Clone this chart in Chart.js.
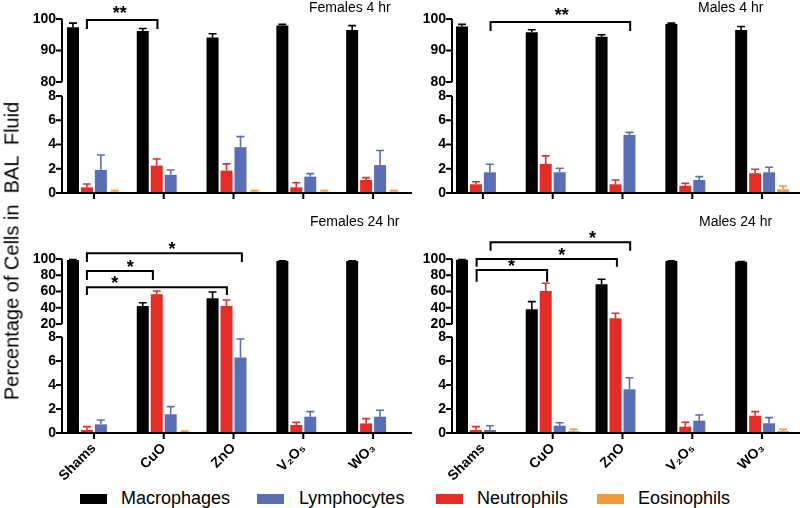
<!DOCTYPE html>
<html>
<head>
<meta charset="utf-8">
<script src="https://cdn.jsdelivr.net/npm/chart.js@4.4.1/dist/chart.umd.min.js"></script>
<style>
  body { margin: 0; background: #fff; width: 800px; height: 508px; position: relative; overflow: hidden;
         font-family: "Liberation Sans", Arial, sans-serif; color: #000; }
  canvas { position: absolute; }
  .ttl { position: absolute; font-size: 14px; line-height: 14px; white-space: nowrap; }
  .ylab { position: absolute; left: 12px; top: 251px; font-size: 20px; white-space: pre;
          transform: translate(-50%, -50%) rotate(-90deg); }
  .sw { position: absolute; top: 494px; width: 27px; height: 10px; }
  .lt { position: absolute; top: 488px; font-size: 18px; line-height: 20px; white-space: nowrap; }
</style>
</head>
<body>
<canvas id="f4" width="415" height="205" style="left:0;top:0"></canvas>
<canvas id="m4" width="405" height="205" style="left:395px;top:0"></canvas>
<canvas id="f24" width="415" height="260" style="left:0;top:225px"></canvas>
<canvas id="m24" width="405" height="260" style="left:395px;top:225px"></canvas>

<div class="ttl" style="left:309px;top:0">Females 4 hr</div>
<div class="ttl" style="left:698px;top:0">Males 4 hr</div>
<div class="ttl" style="left:310px;top:214px">Females 24 hr</div>
<div class="ttl" style="left:699px;top:214px">Males 24 hr</div>
<div class="ylab">Percentage of Cells in  BAL  Fluid</div>

<div class="sw" style="left:80px;background:#000"></div><div class="lt" style="left:121px">Macrophages</div>
<div class="sw" style="left:257px;background:#5a6eb6"></div><div class="lt" style="left:299px">Lymphocytes</div>
<div class="sw" style="left:436px;background:#e32d26"></div><div class="lt" style="left:477px">Neutrophils</div>
<div class="sw" style="left:597px;background:#f59a3c"></div><div class="lt" style="left:638px">Eosinophils</div>

<script>
// groups on the x axis
const groups = ['Shams', 'CuO', 'ZnO', 'V₂O₅', 'WO₃'];

// y tick labels of the broken axes
const ticks4hr = [0, 2, 4, 6, 8, 80, 90, 100];
const ticks24hr = [0, 2, 4, 6, 8, 20, 40, 60, 80, 100];

// Females 4 hr (mean, SEM)
const f4Mac = [97.4, 96.2, 94.1, 97.9, 96.5];
const f4MacErr = [1.3, 0.8, 1.2, 0.4, 1.4];
const f4Neu = [0.47, 2.26, 1.85, 0.47, 1.07];
const f4NeuErr = [0.27, 0.54, 0.55, 0.38, 0.2];
const f4Lym = [1.9, 1.5, 3.78, 1.35, 2.3];
const f4LymErr = [1.24, 0.4, 0.87, 0.25, 1.2];
const f4Eos = [0.1, 0, 0.1, 0.1, 0.1];
const f4EosErr = [0.1, 0, 0.1, 0.1, 0.1];

// Males 4 hr
const m4Mac = [97.6, 95.8, 94.4, 98.4, 96.5];
const m4MacErr = [0.7, 0.8, 0.6, 0.3, 1.1];
const m4Neu = [0.72, 2.4, 0.72, 0.6, 1.63];
const m4NeuErr = [0.21, 0.66, 0.35, 0.2, 0.33];
const m4Lym = [1.71, 1.71, 4.79, 1.07, 1.71];
const m4LymErr = [0.66, 0.33, 0.21, 0.28, 0.41];
const m4Eos = [0, 0, 0, 0, 0.3];
const m4EosErr = [0, 0, 0, 0, 0.28];

// Females 24 hr
const f24Mac = [98.8, 42.2, 51.6, 97.5, 97.5];
const f24MacErr = [0.4, 4.0, 7.8, 0.3, 0.3];
const f24Neu = [0.25, 56.5, 42.2, 0.67, 0.8];
const f24NeuErr = [0.28, 4.1, 7.3, 0.22, 0.4];
const f24Lym = [0.72, 1.56, 6.3, 1.36, 1.36];
const f24LymErr = [0.36, 0.64, 1.53, 0.42, 0.54];
const f24Eos = [0, 0.1, 0, 0, 0];
const f24EosErr = [0, 0.06, 0, 0, 0];

// Males 24 hr
const m24Mac = [99.0, 38.1, 68.9, 97.5, 96.7];
const m24MacErr = [0.3, 9.4, 6.1, 0.3, 0.3];
const m24Neu = [0.25, 60.6, 27.0, 0.53, 1.44];
const m24NeuErr = [0.28, 9.5, 6.2, 0.36, 0.34];
const m24Lym = [0.25, 0.61, 3.64, 1.03, 0.81];
const m24LymErr = [0.35, 0.25, 0.96, 0.47, 0.47];
const m24Eos = [0, 0.17, 0, 0, 0.17];
const m24EosErr = [0, 0.13, 0, 0, 0.13];

const colMac = '#000000';
const colNeu = '#e32d26';
const colLym = '#5a6eb6';
const colEos = '#f59a3c';

Chart.defaults.font.family = '"Liberation Sans", Arial, sans-serif';
Chart.defaults.color = '#000';

// per-canvas settings (axis break, layout, significance brackets)
const extras = {};

// linear scale with a break between two segments
class BrokenScale extends Chart.LinearScale {
  seg() {
    const b = extras[this.chart.canvas.id].brk;
    const h = this.bottom - this.top;
    const lowH = h * b.lowFrac, gapH = h * b.gapFrac;
    return { b, lowH, gapH, upH: h - lowH - gapH };
  }
  getPixelForValue(v) {
    const { b, lowH, gapH, upH } = this.seg();
    if (v <= b.low) return this.bottom - v / b.low * lowH;
    if (v >= b.high) return this.bottom - lowH - gapH - (v - b.high) / (b.max - b.high) * upH;
    return this.bottom - lowH - (v - b.low) / (b.high - b.low) * gapH;
  }
  getValueForPixel(p) {
    const { b, lowH, gapH, upH } = this.seg();
    const d = this.bottom - p;
    if (d <= lowH) return d / lowH * b.low;
    if (d <= lowH + gapH) return b.low + (d - lowH) / gapH * (b.high - b.low);
    return b.high + (d - lowH - gapH) / upH * (b.max - b.high);
  }
}
BrokenScale.id = 'broken';
BrokenScale.defaults = Chart.LinearScale.defaults;
Chart.register(BrokenScale);

// axis lines with the break, and tick marks
const axesPlugin = {
  id: 'brokenAxes',
  afterDraw(chart) {
    const ex = extras[chart.canvas.id];
    const { ctx, chartArea } = chart;
    const y = chart.scales.y, x = chart.scales.x;
    const ax = chartArea.left + ex.axOff;
    const base = y.getPixelForValue(0);
    ctx.save();
    ctx.strokeStyle = '#000';
    ctx.lineWidth = 2;
    ctx.beginPath();
    ctx.moveTo(ax, base + 1);
    ctx.lineTo(ax, y.getPixelForValue(ex.brk.low));
    ctx.moveTo(ax, y.getPixelForValue(ex.brk.high));
    ctx.lineTo(ax, y.getPixelForValue(ex.brk.max));
    ex.yTicks.forEach(v => {
      const p = y.getPixelForValue(v);
      ctx.moveTo(ax - 6, p);
      ctx.lineTo(ax, p);
    });
    ctx.moveTo(ax, base);
    ctx.lineTo(chartArea.right + ex.xExt, base);
    x.ticks.forEach((t, k) => {
      const p = x.getPixelForTick(k);
      ctx.moveTo(p, base);
      ctx.lineTo(p, base + 6);
    });
    ctx.stroke();
    ctx.restore();
  }
};

// one-sided error bars in the colour of the bar
const errPlugin = {
  id: 'errBars',
  afterDatasetsDraw(chart) {
    const ctx = chart.ctx, y = chart.scales.y;
    chart.data.datasets.forEach((ds, i) => {
      chart.getDatasetMeta(i).data.forEach((bar, j) => {
        const e = ds.err[j];
        if (!e) return;
        const top = y.getPixelForValue(ds.data[j] + e);
        const half = bar.width * 0.33;
        ctx.save();
        ctx.strokeStyle = ds.backgroundColor;
        ctx.lineWidth = 1.6;
        ctx.beginPath();
        ctx.moveTo(bar.x, bar.y);
        ctx.lineTo(bar.x, top);
        ctx.moveTo(bar.x - half, top);
        ctx.lineTo(bar.x + half, top);
        ctx.stroke();
        ctx.restore();
      });
    });
  }
};

// significance brackets
const bracketPlugin = {
  id: 'brackets',
  afterDraw(chart) {
    const ex = extras[chart.canvas.id];
    const { ctx } = chart;
    const x = chart.scales.x, y = chart.scales.y;
    ctx.save();
    ctx.strokeStyle = '#000';
    ctx.fillStyle = '#000';
    ctx.lineWidth = 2;
    ctx.font = 'bold 18px "Liberation Sans", Arial, sans-serif';
    ctx.textAlign = 'center';
    ctx.textBaseline = 'alphabetic';
    ex.brackets.forEach(b => {
      const x1 = x.getPixelForValue(b.from), x2 = x.getPixelForValue(b.to);
      const yt = y.getPixelForValue(b.y), yd = y.getPixelForValue(b.drop);
      ctx.beginPath();
      ctx.moveTo(x1, yd);
      ctx.lineTo(x1, yt);
      ctx.lineTo(x2, yt);
      ctx.lineTo(x2, yd);
      ctx.stroke();
      ctx.fillText(b.text, x.getPixelForValue(b.tx), yt + b.ty);
    });
    ctx.restore();
  }
};

function makePanel(id, ex, mac, macErr, neu, neuErr, lym, lymErr, eos, eosErr) {
  extras[id] = ex;
  const sets = [
    { label: 'Macrophages', data: mac, err: macErr, backgroundColor: colMac },
    { label: 'Neutrophils', data: neu, err: neuErr, backgroundColor: colNeu },
    { label: 'Lymphocytes', data: lym, err: lymErr, backgroundColor: colLym },
    { label: 'Eosinophils', data: eos, err: eosErr, backgroundColor: colEos }
  ];
  return new Chart(document.getElementById(id), {
    type: 'bar',
    data: {
      labels: groups,
      datasets: sets.map(s => Object.assign(s, { categoryPercentage: 0.8, barPercentage: 0.86, borderWidth: 0 }))
    },
    options: {
      responsive: false,
      animation: false,
      layout: { padding: { top: ex.padTop, right: ex.padRight, left: 0, bottom: 0 } },
      plugins: { legend: { display: false }, tooltip: { enabled: false } },
      scales: {
        x: {
          grid: { display: false, drawTicks: false },
          border: { display: false },
          ticks: {
            display: ex.showLabels, minRotation: 45, maxRotation: 45, autoSkip: false,
            padding: 7, font: { size: 14, weight: 'bold' }
          },
          afterFit: s => { s.height = ex.xH; }
        },
        y: {
          type: 'broken',
          min: 0,
          max: 100,
          grid: { display: false, drawTicks: false },
          border: { display: false },
          ticks: { padding: ex.tickPad, autoSkip: false, font: { size: 14, weight: 'bold' }, callback: v => v },
          afterBuildTicks: s => { s.ticks = ex.yTicks.map(v => ({ value: v })); },
          afterFit: s => { s.width = ex.yW; }
        }
      }
    },
    plugins: [errPlugin, axesPlugin, bracketPlugin]
  });
}

const brk4 = { low: 8, high: 80, max: 100, lowFrac: 97 / 174, gapFrac: 14 / 174 };
const brk24 = { low: 8, high: 20, max: 100, lowFrac: 96 / 174, gapFrac: 13 / 174 };

makePanel('f4', {
  brk: brk4, yTicks: ticks4hr, padTop: 19, padRight: 7, yW: 59, xH: 12, axOff: 3, tickPad: 3, xExt: 4,
  showLabels: false,
  brackets: [{ from: -0.1, to: 0.91, y: 99.7, drop: 96.8, text: '**', tx: 0.37, ty: -1 }]
}, f4Mac, f4MacErr, f4Neu, f4NeuErr, f4Lym, f4LymErr, f4Eos, f4EosErr);

makePanel('m4', {
  brk: brk4, yTicks: ticks4hr, padTop: 19, padRight: 3, yW: 53, xH: 12, axOff: 4, tickPad: 2, xExt: 3,
  showLabels: false,
  brackets: [{ from: 0.11, to: 2.11, y: 99.05, drop: 96.2, text: '**', tx: 1.13, ty: -1 }]
}, m4Mac, m4MacErr, m4Neu, m4NeuErr, m4Lym, m4LymErr, m4Eos, m4EosErr);

makePanel('f24', {
  brk: brk24, yTicks: ticks24hr, padTop: 34, padRight: 7, yW: 59, xH: 52, axOff: 3, tickPad: 3, xExt: 4,
  showLabels: true,
  brackets: [
    { from: -0.1, to: 2.12, y: 107, drop: 96.3, text: '*', tx: 1.12, ty: 2 },
    { from: -0.1, to: 0.845, y: 85.2, drop: 74.2, text: '*', tx: 0.52, ty: 2 },
    { from: -0.1, to: 1.905, y: 65.2, drop: 55.7, text: '*', tx: 0.3, ty: 2 }
  ]
}, f24Mac, f24MacErr, f24Neu, f24NeuErr, f24Lym, f24LymErr, f24Eos, f24EosErr);

makePanel('m24', {
  brk: brk24, yTicks: ticks24hr, padTop: 34, padRight: 3, yW: 53, xH: 52, axOff: 4, tickPad: 2, xExt: 3,
  showLabels: true,
  brackets: [
    { from: 0.11, to: 2.11, y: 120.6, drop: 110.2, text: '*', tx: 1.57, ty: 2 },
    { from: -0.09, to: 1.92, y: 100, drop: 90.5, text: '*', tx: 1.13, ty: 2 },
    { from: -0.09, to: 0.92, y: 86.5, drop: 72.1, text: '*', tx: 0.41, ty: 2 }
  ]
}, m24Mac, m24MacErr, m24Neu, m24NeuErr, m24Lym, m24LymErr, m24Eos, m24EosErr);
</script>
</body>
</html>
